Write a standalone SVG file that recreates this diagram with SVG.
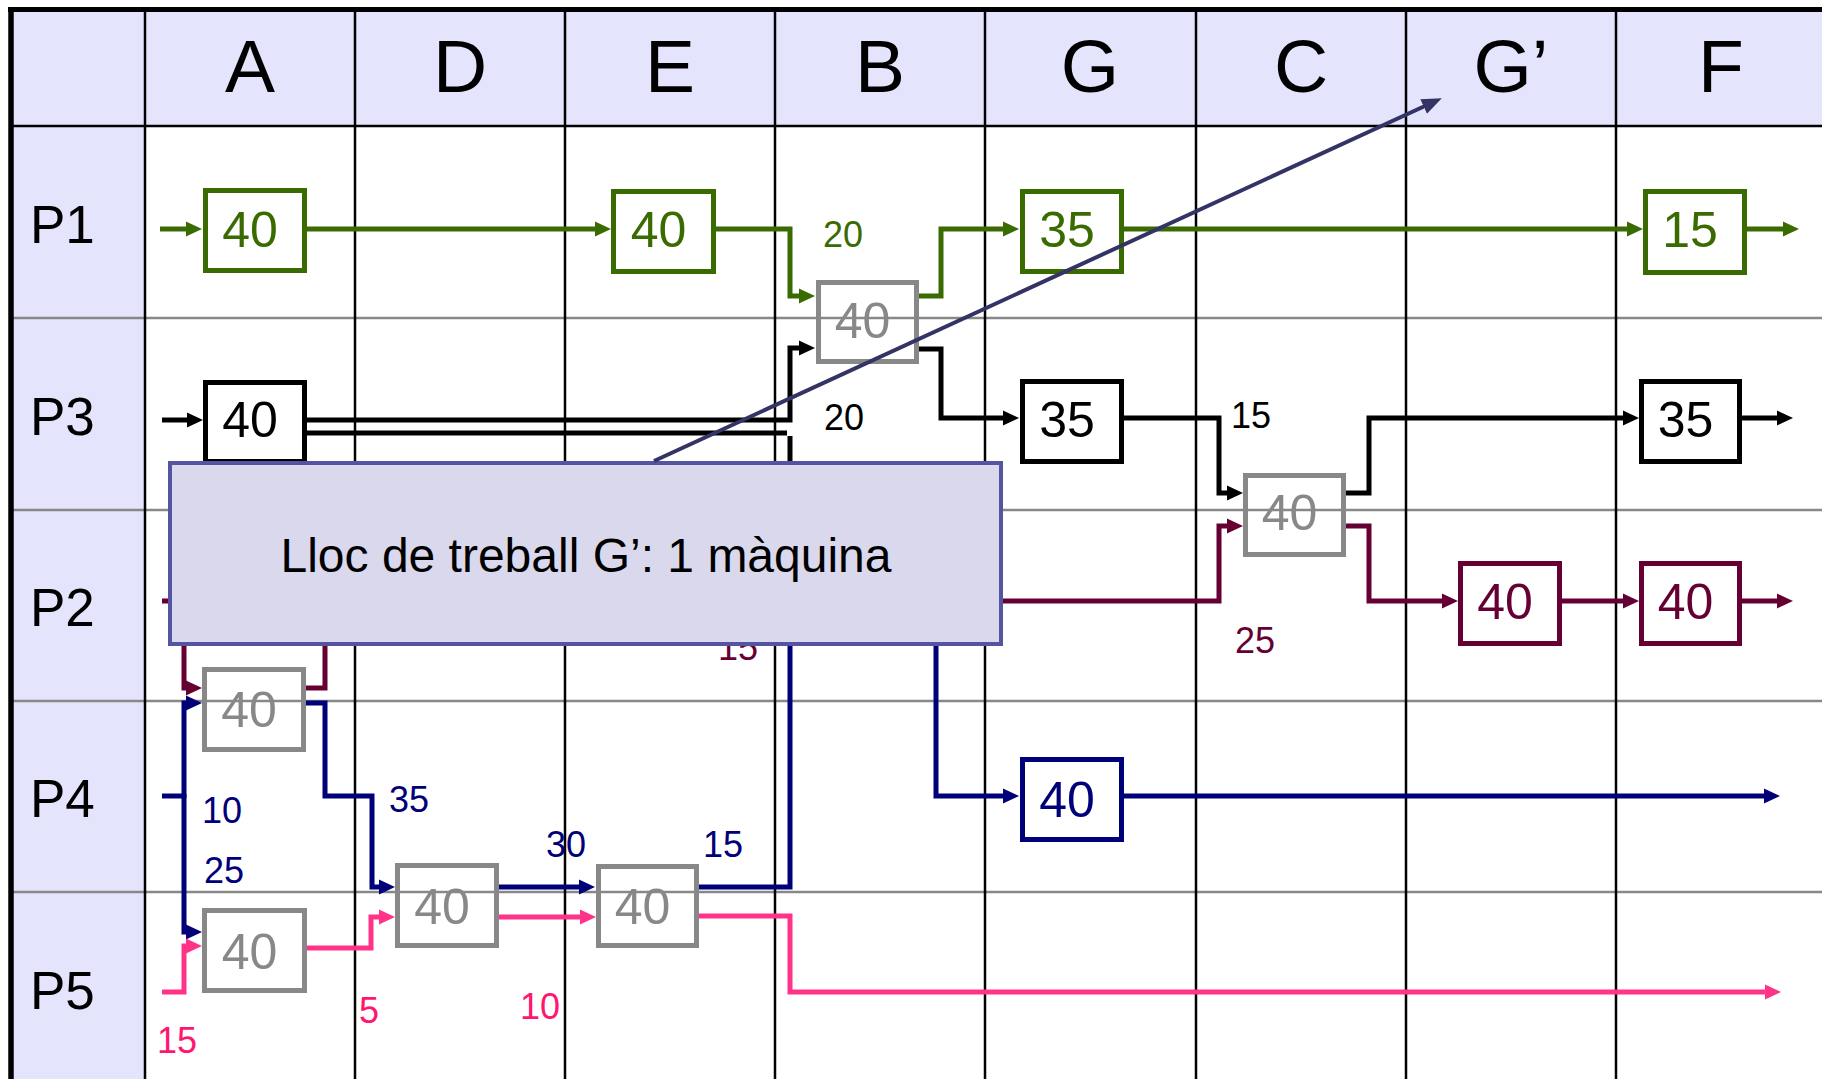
<svg xmlns="http://www.w3.org/2000/svg" width="1822" height="1079" viewBox="0 0 1822 1079">
<style>
text{font-family:"Liberation Sans",Arial,sans-serif}
.hdr{font-size:75px;text-anchor:middle;fill:#000}
.row{font-size:53px;fill:#000}
.num{font-size:50px;text-anchor:middle}
.lbl{font-size:36px}
.box{stroke-width:5;fill:#fff}
.gbox{stroke-width:5;fill:none;stroke:#888}
.c{fill:none;stroke-width:5;stroke-linejoin:miter;stroke-linecap:butt}
.grn{stroke:#3A6B00}.grnT{fill:#3A6B00}
.blk{stroke:#000}.blkT{fill:#000}
.mar{stroke:#660033}.marT{fill:#660033}
.nav{stroke:#000078}.navT{fill:#000078}
.pnk{stroke:#FF3388}.pnkT{fill:#FF1670}
.gryT{fill:#888}
.vl{stroke:#000;stroke-width:2.5}
.hl{stroke:#888;stroke-width:2.5}
</style>
<defs>
<marker id="ag" markerUnits="userSpaceOnUse" viewBox="0 0 16 16" markerWidth="16" markerHeight="16" refX="6" refY="8" orient="auto"><path d="M0,0.5 L16,8 L0,15.5 z" fill="#3A6B00"/></marker>
<marker id="ak" markerUnits="userSpaceOnUse" viewBox="0 0 16 16" markerWidth="16" markerHeight="16" refX="6" refY="8" orient="auto"><path d="M0,0.5 L16,8 L0,15.5 z" fill="#000"/></marker>
<marker id="am" markerUnits="userSpaceOnUse" viewBox="0 0 16 16" markerWidth="16" markerHeight="16" refX="6" refY="8" orient="auto"><path d="M0,0.5 L16,8 L0,15.5 z" fill="#660033"/></marker>
<marker id="an" markerUnits="userSpaceOnUse" viewBox="0 0 16 16" markerWidth="16" markerHeight="16" refX="6" refY="8" orient="auto"><path d="M0,0.5 L16,8 L0,15.5 z" fill="#000078"/></marker>
<marker id="ap" markerUnits="userSpaceOnUse" viewBox="0 0 16 16" markerWidth="16" markerHeight="16" refX="6" refY="8" orient="auto"><path d="M0,0.5 L16,8 L0,15.5 z" fill="#FF3388"/></marker>
<marker id="ad" markerUnits="userSpaceOnUse" viewBox="0 0 20 16" markerWidth="20" markerHeight="16" refX="8" refY="8" orient="auto"><path d="M0,0 L20,8 L0,16 z" fill="#333366"/></marker>
</defs>
<rect width="1822" height="1079" fill="#fff"/>
<g id="grid">
<rect x="10" y="9" width="1812" height="117" fill="#E4E4FC"/>
<rect x="10" y="126" width="135" height="953" fill="#E4E4FC"/>
<line class="hl" x1="10" y1="318" x2="1822" y2="318"/>
<line class="hl" x1="10" y1="510" x2="1822" y2="510"/>
<line class="hl" x1="10" y1="701" x2="1822" y2="701"/>
<line class="hl" x1="10" y1="892" x2="1822" y2="892"/>
<line class="vl" x1="10" y1="126" x2="1822" y2="126"/>
<line class="vl" x1="145" y1="9" x2="145" y2="1079"/>
<line class="vl" x1="355" y1="9" x2="355" y2="1079"/>
<line class="vl" x1="565" y1="9" x2="565" y2="1079"/>
<line class="vl" x1="775" y1="9" x2="775" y2="1079"/>
<line class="vl" x1="985" y1="9" x2="985" y2="1079"/>
<line class="vl" x1="1196" y1="9" x2="1196" y2="1079"/>
<line class="vl" x1="1406" y1="9" x2="1406" y2="1079"/>
<line class="vl" x1="1616" y1="9" x2="1616" y2="1079"/>
<line x1="8" y1="9.5" x2="1822" y2="9.5" stroke="#000" stroke-width="5"/>
<line x1="11" y1="7" x2="11" y2="1079" stroke="#000" stroke-width="5.5"/>
<text class="hdr" x="250" y="92">A</text>
<text class="hdr" x="460" y="92">D</text>
<text class="hdr" x="670" y="92">E</text>
<text class="hdr" x="880" y="92">B</text>
<text class="hdr" x="1090" y="92">G</text>
<text class="hdr" x="1301" y="92">C</text>
<text class="hdr" x="1511" y="92">G’</text>
<text class="hdr" x="1721" y="92">F</text>
<text class="row" x="30" y="243">P1</text>
<text class="row" x="30" y="435">P3</text>
<text class="row" x="30" y="626">P2</text>
<text class="row" x="30" y="817">P4</text>
<text class="row" x="30" y="1009">P5</text>
</g>
<g id="p1-A"><rect class="box grn" x="205.5" y="190.5" width="99" height="80"/><text class="num grnT" x="250" y="247">40</text></g>
<g id="p1-E"><rect class="box grn" x="613.5" y="191.5" width="100" height="80"/><text class="num grnT" x="658.5" y="247">40</text></g>
<g id="p1-G"><rect class="box grn" x="1022.5" y="191.5" width="99" height="80"/><text class="num grnT" x="1067" y="247">35</text></g>
<g id="p1-F"><rect class="box grn" x="1645.5" y="191.5" width="99" height="81"/><text class="num grnT" x="1690" y="247">15</text></g>
<g id="p3-A"><rect class="box blk" x="205.5" y="382.5" width="99" height="79"/><text class="num blkT" x="250" y="437">40</text></g>
<g id="p3-G"><rect class="box blk" x="1022.5" y="381.5" width="99" height="80"/><text class="num blkT" x="1067" y="436.5">35</text></g>
<g id="p3-F"><rect class="box blk" x="1641.5" y="381.5" width="98" height="80"/><text class="num blkT" x="1685.5" y="436.5">35</text></g>
<g id="p2-Gp"><rect class="box mar" x="1460.5" y="563.5" width="99" height="80"/><text class="num marT" x="1505" y="618.5">40</text></g>
<g id="p2-F"><rect class="box mar" x="1641.5" y="563.5" width="98" height="80"/><text class="num marT" x="1685.5" y="618.5">40</text></g>
<g id="p4-G"><rect class="box nav" x="1022.5" y="759.5" width="99" height="80"/><text class="num navT" x="1067" y="817">40</text></g>
<g id="shared-B"><rect class="gbox" x="818.5" y="282.5" width="98" height="79"/><text class="num gryT" x="862.5" y="338">40</text></g>
<g id="shared-C"><rect class="gbox" x="1245.5" y="475.5" width="98" height="79"/><text class="num gryT" x="1289.5" y="530">40</text></g>
<g id="shared-A"><rect class="gbox" x="204.5" y="669.5" width="99" height="80"/><text class="num gryT" x="249" y="726.5">40</text></g>
<g id="shared-D"><rect class="gbox" x="397.5" y="865.5" width="99" height="80"/><text class="num gryT" x="442" y="924">40</text></g>
<g id="shared-E"><rect class="gbox" x="598.5" y="866.5" width="98" height="79"/><text class="num gryT" x="642.5" y="924">40</text></g>
<g id="p5-A"><rect class="gbox" x="204.5" y="910.5" width="100" height="80"/><text class="num gryT" x="249.5" y="969">40</text></g>
<g id="connectors">
<path class="c grn" d="M160,229 H192" marker-end="url(#ag)"/>
<path class="c grn" d="M307,229 H601" marker-end="url(#ag)"/>
<path class="c grn" d="M716,229 H790 V296 H805" marker-end="url(#ag)"/>
<path class="c grn" d="M919,296 H941 V229 H1009" marker-end="url(#ag)"/>
<path class="c grn" d="M1124,229 H1633" marker-end="url(#ag)"/>
<path class="c grn" d="M1747,229 H1789" marker-end="url(#ag)"/>

<path class="c blk" d="M162,420 H193" marker-end="url(#ak)"/>
<path class="c blk" d="M307,420 H790 V348 H805" marker-end="url(#ak)"/>
<path class="c blk" d="M307,433 H787"/>
<path class="c blk" d="M790,436 V490"/>
<path class="c blk" d="M919,349 H941 V418 H1009" marker-end="url(#ak)"/>
<path class="c blk" d="M1124,418 H1219 V493 H1233" marker-end="url(#ak)"/>
<path class="c blk" d="M1346,493 H1369 V418 H1629" marker-end="url(#ak)"/>
<path class="c blk" d="M1742,418 H1783" marker-end="url(#ak)"/>

<path class="c mar" d="M162,601 H184 V688 H192" marker-end="url(#am)"/>
<path class="c mar" d="M306,688 H325 V601 H1219 V526 H1233" marker-end="url(#am)"/>
<path class="c mar" d="M1346,526 H1369 V601 H1448" marker-end="url(#am)"/>
<path class="c mar" d="M1562,601 H1629" marker-end="url(#am)"/>
<path class="c mar" d="M1742,601 H1783" marker-end="url(#am)"/>

<path class="c nav" d="M162,796 H184"/>
<path class="c nav" d="M184,798 V703 H192" marker-end="url(#an)"/>
<path class="c nav" d="M184,794 V932 H192" marker-end="url(#an)"/>
<path class="c nav" d="M306,703 H325 V796 H372 V887 H385" marker-end="url(#an)"/>
<path class="c nav" d="M499,887 H585" marker-end="url(#an)"/>
<path class="c nav" d="M699,887 H790 V480"/>
<path class="c nav" d="M936,490 V796 H1009" marker-end="url(#an)"/>
<path class="c nav" d="M1124,796 H1770" marker-end="url(#an)"/>

<path class="c pnk" d="M162,992 H184 V946 H192" marker-end="url(#ap)"/>
<path class="c pnk" d="M307,948 H371 V917 H385" marker-end="url(#ap)"/>
<path class="c pnk" d="M499,917 H586" marker-end="url(#ap)"/>
<path class="c pnk" d="M699,916 H790 V992 H1771" marker-end="url(#ap)"/>
</g>
<g id="labels">
<text class="lbl grnT" x="823" y="247">20</text>
<text class="lbl blkT" x="824" y="430">20</text>
<text class="lbl blkT" x="1231" y="428">15</text>
<text class="lbl marT" x="718" y="660">15</text>
<text class="lbl marT" x="1235" y="653">25</text>
<text class="lbl navT" x="202" y="823">10</text>
<text class="lbl navT" x="204" y="883">25</text>
<text class="lbl navT" x="389" y="812">35</text>
<text class="lbl navT" x="546" y="857">30</text>
<text class="lbl navT" x="703" y="857">15</text>
<text class="lbl pnkT" x="157" y="1053">15</text>
<text class="lbl pnkT" x="359" y="1023">5</text>
<text class="lbl pnkT" x="520" y="1019">10</text>
</g>
<g id="callout">
<rect x="170" y="463" width="831" height="181" fill="#D9D8EC" stroke="#5454A0" stroke-width="4"/>
<text x="586" y="572" font-size="48" text-anchor="middle" fill="#000">Lloc de treball G’: 1 màquina</text>
<path d="M654,461 L1430.9,103.2" stroke="#333366" stroke-width="4" fill="none" marker-end="url(#ad)"/>
</g>
</svg>
